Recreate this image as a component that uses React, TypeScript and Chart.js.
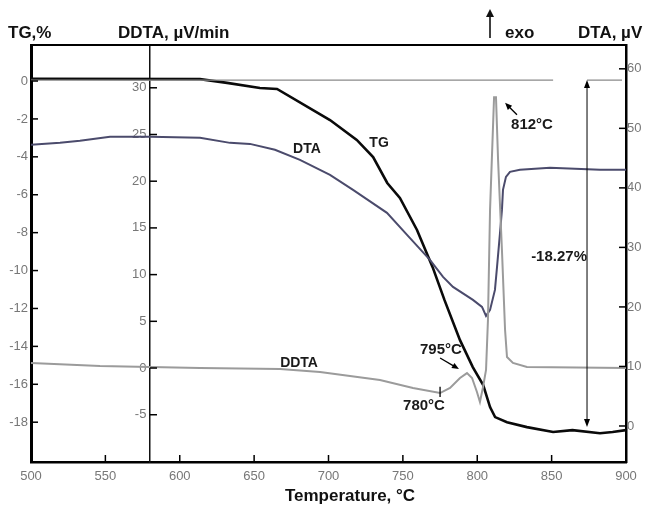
import { useEffect, useRef } from 'react';
import { Chart, registerables } from 'chart.js';

Chart.register(...registerables);

const FONT = '"Liberation Sans", Arial, sans-serif';

// Temperature axis ticks
const xTicks = [500, 550, 600, 650, 700, 750, 800, 850, 900];
const tgTicks = [0, -2, -4, -6, -8, -10, -12, -14, -16, -18];
const dtaTicks = [0, 10, 20, 30, 40, 50, 60];
const ddtaTicks = [-5, 0, 5, 10, 15, 20, 25, 30];

// TG curve (%)
const tgTemp = [500, 613.6, 631.8, 653.9, 665.4, 701, 719, 730, 739.5, 748, 759.5, 770, 778, 788.4, 797, 804, 808.6, 812, 820, 833.4, 851, 864, 882.5, 891, 900];
const tgValue = [0.12, 0.1, -0.1, -0.37, -0.42, -2.06, -3.11, -4.01, -5.38, -6.17, -7.86, -9.82, -11.56, -13.67, -15.09, -16.04, -17.2, -17.73, -18.0, -18.26, -18.52, -18.42, -18.58, -18.52, -18.42];

// DTA curve (µV)
const dtaTemp = [500, 519.5, 532.9, 553.1, 580, 613.6, 633.8, 647.2, 664, 680.8, 701, 716.5, 739.3, 752.8, 768.2, 777, 783.7, 797.1, 803.2, 805.9, 808.6, 811.9, 813.3, 815.3, 816.6, 817.3, 819.3, 822, 828.7, 848.9, 882.5, 900];
const dtaValue = [47.23, 47.56, 47.9, 48.57, 48.57, 48.4, 47.56, 47.39, 46.39, 44.71, 42.18, 39.66, 35.8, 32.1, 27.9, 25.04, 23.36, 21.18, 20, 18.49, 19.5, 22.86, 26.72, 32.44, 36.3, 39.66, 41.85, 42.69, 43.03, 43.36, 43.03, 43.03];

// DDTA curve (µV/min)
const ddtaTemp = [500, 546.4, 580, 613.6, 667.4, 694.3, 734.6, 756.8, 775, 781.7, 788.4, 793.1, 796.5, 799.8, 801.8, 803.9, 805.9, 807.2, 808.6, 811.3, 812.6, 814, 816.6, 818.7, 820, 824, 833.4, 900];
const ddtaValue = [0.54, 0.21, 0.11, 0, -0.11, -0.43, -1.28, -2.14, -2.68, -2.14, -1.07, -0.54, -1.07, -2.57, -3.64, -2.03, -0.21, 5.14, 16.92, 29.0, 29.0, 22.27, 12.63, 4.07, 1.18, 0.54, 0.11, 0];

// TG reference baseline (mass-loss bracket)
const baseTempA = [500, 851];
const baseTempB = [873.8, 897.3];
const baseValue = [0.05, 0.05];
const lossTemp = 873.8;
const lossTop = 0.05;
const lossBottom = -18.26;

const pts = (xs: number[], ys: number[]) => xs.map((x, i) => ({ x, y: ys[i] }));

type Note = { text: string; x: number; y: number; axis: string; size: number };
const notes: Note[] = [
  { text: 'TG', x: 734, y: -3.27, axis: 'y', size: 14 },
  { text: 'DTA', x: 685.5, y: 46.55, axis: 'y2', size: 14 },
  { text: 'DDTA', x: 680.2, y: 0.54, axis: 'y3', size: 14 },
  { text: '812°C', x: 836.8, y: 50.6, axis: 'y2', size: 15 },
  { text: '795°C', x: 775.6, y: 1.93, axis: 'y3', size: 15 },
  { text: '780°C', x: 764.2, y: -4.07, axis: 'y3', size: 15 },
  { text: '-18.27%', x: 855, y: -9.29, axis: 'y', size: 15 },
];
type Pointer = { x1: number; y1: number; x2: number; y2: number; axis: string };
const pointers: Pointer[] = [
  { x1: 826.7, y1: 52.27, x2: 818.7, y2: 54.29, axis: 'y2' },
  { x1: 775, y1: 1.07, x2: 787.7, y2: -0.11, axis: 'y3' },
];
const mark780 = { x: 775, y1: -2.0, y2: -3.1 };

function arrowHead(ctx: CanvasRenderingContext2D, x1: number, y1: number, x2: number, y2: number, len: number, half: number) {
  const a = Math.atan2(y2 - y1, x2 - x1);
  ctx.beginPath();
  ctx.moveTo(x2, y2);
  ctx.lineTo(x2 - len * Math.cos(a) + half * Math.sin(a), y2 - len * Math.sin(a) - half * Math.cos(a));
  ctx.lineTo(x2 - len * Math.cos(a) - half * Math.sin(a), y2 - len * Math.sin(a) + half * Math.cos(a));
  ctx.closePath();
  ctx.fill();
}

function line(ctx: CanvasRenderingContext2D, x1: number, y1: number, x2: number, y2: number) {
  ctx.beginPath();
  ctx.moveTo(x1, y1);
  ctx.lineTo(x2, y2);
  ctx.stroke();
}

const decor = {
  id: 'decor',
  afterDraw(chart: any) {
    const ctx: CanvasRenderingContext2D = chart.ctx;
    const { left, right, top, bottom } = chart.chartArea;
    const sx = chart.scales.x;
    const sy = chart.scales.y;
    const sy2 = chart.scales.y2;
    const sy3 = chart.scales.y3;
    ctx.save();
    ctx.strokeStyle = '#000';
    ctx.fillStyle = '#000';
    // top frame
    ctx.lineWidth = 2;
    line(ctx, left - 1, top, right + 1, top);
    // inward ticks
    ctx.lineWidth = 1.5;
    for (const t of sx.ticks) {
      const p = sx.getPixelForValue(t.value);
      line(ctx, p, bottom, p, bottom - 7);
    }
    for (const t of sy.ticks) {
      const p = sy.getPixelForValue(t.value);
      line(ctx, left, p, left + 7, p);
    }
    for (const t of sy2.ticks) {
      const p = sy2.getPixelForValue(t.value);
      line(ctx, right, p, right - 7, p);
    }
    const ax3 = sx.getPixelForValue(580);
    for (const t of sy3.ticks) {
      const p = sy3.getPixelForValue(t.value);
      line(ctx, ax3, p, ax3 + 7, p);
    }
    // mass-loss double arrow
    ctx.lineWidth = 1;
    const lx = sx.getPixelForValue(lossTemp);
    const ly1 = sy.getPixelForValue(lossTop);
    const ly2 = sy.getPixelForValue(lossBottom);
    line(ctx, lx, ly1 + 4, lx, ly2 - 4);
    arrowHead(ctx, lx, ly2, lx, ly1, 8, 3);
    arrowHead(ctx, lx, ly1, lx, ly2, 8, 3);
    // pointer arrows
    ctx.lineWidth = 1.3;
    for (const p of pointers) {
      const s = chart.scales[p.axis];
      const x1 = sx.getPixelForValue(p.x1), y1 = s.getPixelForValue(p.y1);
      const x2 = sx.getPixelForValue(p.x2), y2 = s.getPixelForValue(p.y2);
      line(ctx, x1, y1, x2 - (x2 - x1) * 0.2, y2 - (y2 - y1) * 0.2);
      arrowHead(ctx, x1, y1, x2, y2, 7, 3);
    }
    // 780 marker
    const mx = sx.getPixelForValue(mark780.x);
    line(ctx, mx, sy3.getPixelForValue(mark780.y1), mx, sy3.getPixelForValue(mark780.y2));
    // notes
    ctx.textAlign = 'center';
    ctx.textBaseline = 'middle';
    for (const n of notes) {
      const s = chart.scales[n.axis];
      ctx.font = `bold ${n.size}px ${FONT}`;
      ctx.fillStyle = '#1a1a1a';
      ctx.fillText(n.text, sx.getPixelForValue(n.x), s.getPixelForValue(n.y));
    }
    // axis titles
    ctx.fillStyle = '#111';
    ctx.font = `bold 17px ${FONT}`;
    ctx.textAlign = 'left';
    ctx.fillText('TG,%', 8, 33);
    ctx.fillText('DDTA, µV/min', 118, 33);
    ctx.fillText('exo', 505, 33);
    ctx.fillText('DTA, µV', 578, 33);
    ctx.textAlign = 'center';
    ctx.fillText('Temperature, °C', 350, 496);
    // exo arrow
    ctx.lineWidth = 1.5;
    line(ctx, 490, 38, 490, 14);
    arrowHead(ctx, 490, 38, 490, 9, 8, 4);
    ctx.restore();
  },
};

export default function App() {
  const ref = useRef<HTMLCanvasElement>(null);
  useEffect(() => {
    const canvas = ref.current;
    if (!canvas) return;
    const tickFont = { family: FONT, size: 13 };
    const baseAxis = {
      grid: { drawOnChartArea: false, drawTicks: false },
      border: { color: '#000', width: 2.5 },
    };
    const chart = new Chart(canvas, {
      type: 'line',
      data: {
        datasets: [
          { label: 'base', data: pts(baseTempA, baseValue), yAxisID: 'y', borderColor: '#8a8a8a', borderWidth: 1.2, pointRadius: 0 },
          { label: 'base2', data: pts(baseTempB, baseValue), yAxisID: 'y', borderColor: '#8a8a8a', borderWidth: 1.2, pointRadius: 0 },
          { label: 'DDTA', data: pts(ddtaTemp, ddtaValue), yAxisID: 'y3', borderColor: '#9b9b9b', borderWidth: 2, pointRadius: 0 },
          { label: 'DTA', data: pts(dtaTemp, dtaValue), yAxisID: 'y2', borderColor: '#4b4b6c', borderWidth: 2, pointRadius: 0 },
          { label: 'TG', data: pts(tgTemp, tgValue), yAxisID: 'y', borderColor: '#0a0a0a', borderWidth: 2.6, pointRadius: 0 },
        ],
      },
      options: {
        responsive: false,
        animation: false,
        layout: { padding: { top: 45, left: 0, right: 0, bottom: 0 } },
        plugins: { legend: { display: false }, tooltip: { enabled: false } },
        scales: {
          x: {
            type: 'linear', position: 'bottom', min: 500, max: 900,
            afterBuildTicks: (s: any) => { s.ticks = xTicks.map((v) => ({ value: v })); },
            afterFit: (s: any) => { s.height = 43; },
            ticks: { font: tickFont, color: '#777', padding: 7 },
            ...baseAxis,
          },
          y: {
            type: 'linear', position: 'left', min: -20.1, max: 1.9,
            afterBuildTicks: (s: any) => { s.ticks = tgTicks.map((v) => ({ value: v })); },
            afterFit: (s: any) => { s.width = 31; },
            ticks: { font: tickFont, color: '#777', padding: 3 },
            grid: { drawOnChartArea: false, drawTicks: false },
            border: { color: '#000', width: 3 },
          },
          y2: {
            type: 'linear', position: 'right', min: -6.05, max: 64,
            afterBuildTicks: (s: any) => { s.ticks = dtaTicks.map((v) => ({ value: v })); },
            afterFit: (s: any) => { s.width = 20; },
            ticks: { font: tickFont, color: '#777', padding: 1 },
            ...baseAxis,
          },
          y3: {
            type: 'linear', position: { x: 580 } as any, min: -10.06, max: 34.58,
            afterBuildTicks: (s: any) => { s.ticks = ddtaTicks.map((v) => ({ value: v })); },
            ticks: { font: tickFont, color: '#777', callback: (v: any) => `${v} ` },
            grid: { drawOnChartArea: false, drawTicks: false },
            border: { color: '#111', width: 1.5 },
          },
        },
      } as any,
      plugins: [decor],
    });
    return () => chart.destroy();
  }, []);
  return (
    <div style={{ position: 'absolute', left: 0, top: 0, width: 646, height: 505, background: '#fff' }}>
      <canvas ref={ref} width={646} height={505} style={{ width: 646, height: 505, display: 'block' }} />
    </div>
  );
}
